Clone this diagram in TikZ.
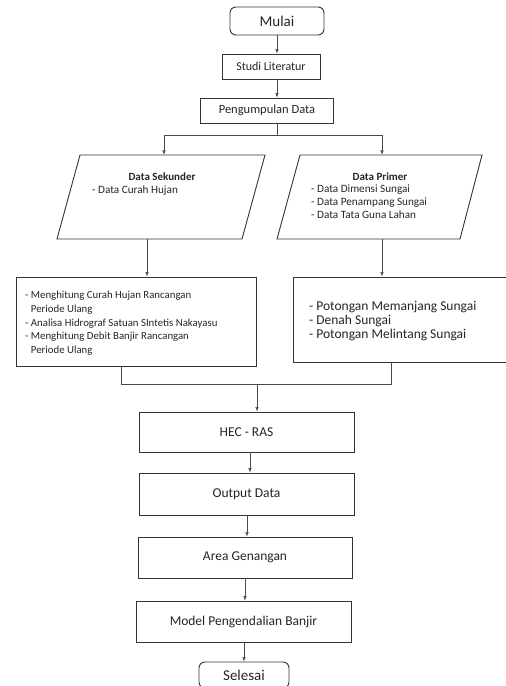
\documentclass[tikz,border=0pt]{standalone}
\usepackage{fontspec}
\setmainfont{Carlito}
\usetikzlibrary{arrows.meta}
\begin{document}
\begin{tikzpicture}[x=1pt,y=-1pt,
  box/.style={draw=black!80, line width=0.9pt, rectangle, inner sep=0pt, text=black!85, align=center},
  term/.style={box, rounded corners=6pt},
  conn/.style={draw=black!70, line width=0.6pt},
  arr/.style={conn, -{Latex[length=4.5pt,width=3.5pt]}},
  txt/.style={inner sep=0pt, text=black!85, align=left, anchor=north west},
  para/.style={draw=black!80, line width=0.9pt},
  big/.style={font=\fontsize{13.5}{16}\selectfont}]
\useasboundingbox (0,0) rectangle (506,686);
\fill[white] (0,0) rectangle (506,686);
% terminals and process boxes
\node[term, minimum width=94pt, minimum height=28pt, font=\fontsize{15}{17}\selectfont] (mulai) at (277,21) {Mulai};
\node[box, minimum width=98pt, minimum height=25pt, font=\fontsize{12}{14}\selectfont] (studi) at (271,66.5) {Studi Literatur};
\node[box, minimum width=133pt, minimum height=25pt, font=\fontsize{12.5}{14}\selectfont] (peng) at (267,110.5) {Pengumpulan Data};
% parallelograms
\node[inner sep=0pt, minimum width=185pt, minimum height=84pt] (dsk) at (161,197) {};
\draw[para] (80,155) -- (265,155) -- (242,239) -- (57,239) -- cycle;
\node[inner sep=0pt, minimum width=183pt, minimum height=84pt] (dpr) at (380,197) {};
\draw[para] (300,155) -- (482,155) -- (460,239) -- (277,239) -- cycle;
\node[inner sep=0pt, text=black!85, font=\bfseries\fontsize{11}{13}\selectfont] (dskt) at (162,177) {Data Sekunder};
\node[txt, font=\fontsize{11.2}{12.8}\selectfont] (dskl) at (92,186) {- Data Curah Hujan};
\node[inner sep=0pt, text=black!85, font=\bfseries\fontsize{11}{13}\selectfont] (dprt) at (380,177) {Data Primer};
\node[txt, font=\fontsize{11.2}{12.6}\selectfont] (dprl) at (311,185) {- Data Dimensi Sungai\\- Data Penampang Sungai\\- Data Tata Guna Lahan};
% analysis boxes
\node[box, minimum width=240pt, minimum height=89pt] (hit) at (136,321.5) {};
\node[txt, font=\fontsize{10.8}{13.7}\selectfont] (hitt) at (25,291) {- Menghitung Curah Hujan Rancangan\\\phantom{- }Periode Ulang\\- Analisa Hidrograf Satuan SIntetis Nakayasu\\- Menghitung Debit Banjir Rancangan\\\phantom{- }Periode Ulang};
\node[box, minimum width=213pt, minimum height=85pt] (pot) at (399.5,319.5) {};
\node[txt, font=\fontsize{13.5}{14.2}\selectfont] (pott) at (309,301) {- Potongan Memanjang Sungai\\- Denah Sungai\\- Potongan Melintang Sungai};
% lower chain
\node[box, big, minimum width=215pt, minimum height=40pt] (hec) at (246.5,432) {HEC - RAS};
\node[box, big, minimum width=215pt, minimum height=42pt] (out) at (246.5,494) {Output Data};
\node[box, big, minimum width=214pt, minimum height=41pt] (area) at (245,557.5) {Area Genangan};
\node[box, big, minimum width=215pt, minimum height=41pt] (model) at (243.5,621.5) {Model Pengendalian Banjir};
\node[term, minimum width=90pt, minimum height=26pt, font=\fontsize{15}{17}\selectfont] (sel) at (244,675) {Selesai};
% connectors
\draw[arr] (mulai.south -| 277,0) -- (studi.north -| 277,0);
\draw[arr] (studi.south -| 277,0) -- (peng.north -| 277,0);
\coordinate (sp) at (277,135);
\coordinate (spl) at (164,135);
\coordinate (spr) at (382,135);
\draw[conn] (peng.south -| sp) -- (sp);
\draw[arr] (sp) -- (spl) -- (spl |- dsk.north);
\draw[arr] (sp) -- (spr) -- (spr |- dpr.north);
\coordinate (lx) at (147,0);
\coordinate (rx) at (382,0);
\draw[arr] (dsk.south -| lx) -- (hit.north -| lx);
\draw[arr] (dpr.south -| rx) -- (pot.north -| rx);
\coordinate (mj) at (257,384);
\coordinate (ml) at (121,384);
\coordinate (mr) at (391,384);
\draw[conn] (hit.south -| ml) -- (ml) -- (mr) -- (pot.south -| mr);
\draw[arr] (mj) -- (hec.north -| mj);
\draw[arr] (hec.south -| 250,0) -- (out.north -| 250,0);
\draw[arr] (out.south -| 247,0) -- (area.north -| 247,0);
\draw[arr] (area.south -| 245,0) -- (model.north -| 245,0);
\draw[arr] (model.south -| 244,0) -- (sel.north -| 244,0);
\end{tikzpicture}
\end{document}
